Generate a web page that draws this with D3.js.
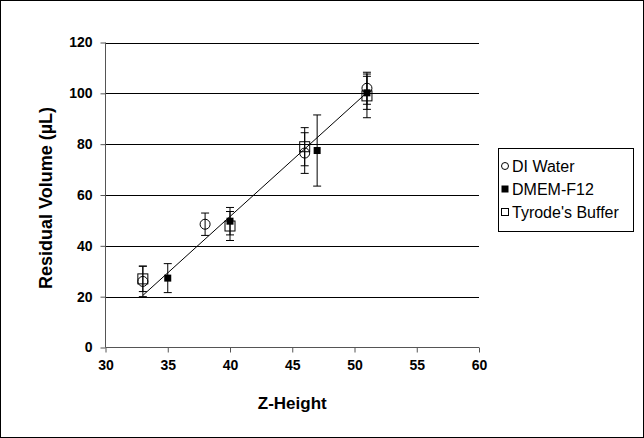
<!DOCTYPE html>
<html><head><meta charset="utf-8">
<script src="https://cdn.jsdelivr.net/npm/d3@7"></script>
<style>
html,body{margin:0;padding:0;background:#fff;}
svg{display:block;font-family:Arial,"Liberation Sans",sans-serif;}
</style></head>
<body><svg id="c" width="644" height="438"></svg>
<script>
// Data
const seriesNames = ["DI Water", "DMEM-F12", "Tyrode's Buffer"];
const diWaterX = [33, 38, 46, 51];
const diWaterY = [26, 48.5, 76.5, 102];
const diWaterErr = [6, 4.4, 8, 6.3];
const dmemX = [35, 40, 47, 51];
const dmemY = [27.3, 49.7, 77.5, 100.2];
const dmemErr = [5.7, 5.4, 14, 6.5];
const tyrodeX = [33, 40, 46, 51];
const tyrodeY = [27, 47.8, 79, 99];
const tyrodeErr = [5, 5.7, 7.5, 8.6];
const trendX = [33, 51];
const trendY = [20.5, 100.3];
const xTicks = [30, 35, 40, 45, 50, 55, 60];
const yTicks = [0, 20, 40, 60, 80, 100, 120];

const svg = d3.select("#c");
const W = 644, H = 438;
const m = {left: 105.5, right: 479, top: 42.5, bottom: 347.5};

svg.append("rect").attr("x",0.5).attr("y",0.5).attr("width",W-1).attr("height",H-1)
  .attr("fill","#fff").attr("stroke","#000").attr("stroke-width",1);

const x = d3.scaleLinear().domain([30,60]).range([m.left, m.right]);
const y = d3.scaleLinear().domain([0,120]).range([m.bottom, m.top]);

// gridlines
svg.append("g").selectAll("line").data(yTicks.filter(d=>d>0)).join("line")
  .attr("x1", m.left).attr("x2", m.right)
  .attr("y1", d=>Math.round(y(d))+0.5).attr("y2", d=>Math.round(y(d))+0.5)
  .attr("stroke","#000").attr("stroke-width",1);

// axes
const yAxis = d3.axisLeft(y).tickValues(yTicks).tickSize(5).tickPadding(8).tickFormat(d3.format("d"));
const gy = svg.append("g").attr("transform",`translate(${m.left},0)`).call(yAxis);
const xAxis = d3.axisBottom(x).tickValues(xTicks).tickSize(5).tickPadding(8).tickFormat(d3.format("d"));
const gx = svg.append("g").attr("transform",`translate(0,${m.bottom})`).call(xAxis);
[gx, gy].forEach(g=>{
  g.selectAll(".tick line").attr("stroke","#555");
  g.selectAll("text").attr("font-family","Arial, 'Liberation Sans', sans-serif")
    .attr("font-size",14).attr("font-weight","bold").attr("fill","#000");
});
gy.select(".domain").remove();
gx.select(".domain").remove();
svg.append("line").attr("x1",m.left).attr("x2",m.left).attr("y1",m.top).attr("y2",m.bottom).attr("stroke","#555");
svg.append("line").attr("x1",m.left).attr("x2",m.right).attr("y1",m.bottom).attr("y2",m.bottom).attr("stroke","#555");

// axis titles
svg.append("text").attr("x",(m.left+m.right)/2).attr("y",409).attr("text-anchor","middle")
  .attr("font-size",17).attr("font-weight","bold").text("Z-Height");
svg.append("text").attr("transform",`translate(52,198) rotate(-90)`)
  .attr("text-anchor","middle").attr("font-size",18).attr("font-weight","bold").text("Residual Volume (µL)");

const series = [
  {name: seriesNames[0], xs: diWaterX, ys: diWaterY, es: diWaterErr, type: "circle"},
  {name: seriesNames[1], xs: dmemX, ys: dmemY, es: dmemErr, type: "filled"},
  {name: seriesNames[2], xs: tyrodeX, ys: tyrodeY, es: tyrodeErr, type: "square"}
];

function drawMarker(g, type, cx, cy, big) {
  if (type === "circle") {
    g.append("circle").attr("cx",cx).attr("cy",cy).attr("r", big?5:3.5)
      .attr("fill","none").attr("stroke","#000").attr("stroke-width",1);
  } else if (type === "filled") {
    const s = 7;
    g.append("rect").attr("x",cx-s/2).attr("y",cy-s/2).attr("width",s).attr("height",s).attr("fill","#000");
  } else {
    const s = big?10:7;
    g.append("rect").attr("x",cx-s/2).attr("y",cy-s/2).attr("width",s).attr("height",s)
      .attr("fill","none").attr("stroke","#000").attr("stroke-width",1);
  }
}

const gm = svg.append("g");
series.forEach(s=>{
  s.xs.forEach((xv,i)=>{
    const cx = x(xv), cy = y(s.ys[i]);
    const yt = y(s.ys[i]+s.es[i]), yb = y(s.ys[i]-s.es[i]);
    gm.append("line").attr("x1",cx).attr("x2",cx).attr("y1",yt).attr("y2",yb).attr("stroke","#000");
    gm.append("line").attr("x1",cx-4).attr("x2",cx+4).attr("y1",yt).attr("y2",yt).attr("stroke","#000");
    gm.append("line").attr("x1",cx-4).attr("x2",cx+4).attr("y1",yb).attr("y2",yb).attr("stroke","#000");
    drawMarker(gm, s.type, cx, cy, true);
  });
});

// trend line
svg.append("line").attr("x1",x(trendX[0])).attr("y1",y(trendY[0]))
  .attr("x2",x(trendX[1])).attr("y2",y(trendY[1])).attr("stroke","#000").attr("stroke-width",1);

// legend
const lg = svg.append("g");
lg.append("rect").attr("x",498.5).attr("y",148.5).attr("width",135).attr("height",83)
  .attr("fill","#fff").attr("stroke","#000");
series.forEach((s,i)=>{
  const cy = 166 + i*23;
  drawMarker(lg, s.type, 505, cy, false);
  lg.append("text").attr("x",512).attr("y",cy).attr("dy","0.36em")
    .attr("font-size",16).text(s.name);
});
</script></body></html>
